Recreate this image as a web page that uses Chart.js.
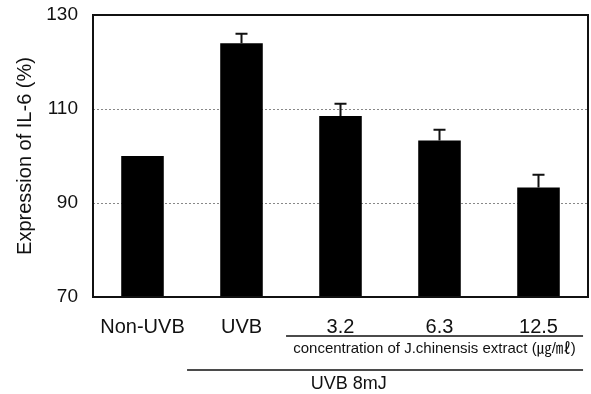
<!DOCTYPE html>
<html>
<head>
<meta charset="utf-8">
<script src="https://cdn.jsdelivr.net/npm/chart.js@4"></script>
<style>
  html, body { margin: 0; padding: 0; background: #fff; }
  #wrap { width: 591px; height: 394px; }
</style>
</head>
<body>
<div id="wrap"><canvas id="il6Chart" width="591" height="394"></canvas></div>
<script>
// IL-6 expression bar chart

const groups = ['Non-UVB', 'UVB', '3.2', '6.3', '12.5'];
const il6Values = [100, 124, 108.5, 103.3, 93.3];
const il6Errors = [0, 2, 2.6, 2.3, 2.7];
const yTicks = [70, 90, 110, 130];

const FONT = "'Liberation Sans', Arial, 'Noto Sans CJK KR', sans-serif";

// error bars (upper half only, like the figure)
const errorBars = {
    id: 'errorBars',
    afterDatasetsDraw(chart) {
        const ctx = chart.ctx;
        const x = chart.scales.x, y = chart.scales.y;
        ctx.save();
        ctx.strokeStyle = '#111';
        ctx.lineWidth = 2;
        il6Values.forEach((v, i) => {
            if (!il6Errors[i]) return;
            const px = x.getPixelForValue(i);
            const top = y.getPixelForValue(v + il6Errors[i]);
            ctx.beginPath();
            ctx.moveTo(px, y.getPixelForValue(v));
            ctx.lineTo(px, top);
            ctx.moveTo(px - 6, top);
            ctx.lineTo(px + 6, top);
            ctx.stroke();
        });
        ctx.restore();
    }
};

// frame around the plot and the grouping lines under the axis
const frameAndGroups = {
    id: 'frameAndGroups',
    afterDraw(chart) {
        const ctx = chart.ctx;
        const a = chart.chartArea;
        const x = chart.scales.x;
        ctx.save();
        ctx.strokeStyle = '#111';
        ctx.lineWidth = 2;
        ctx.strokeRect(a.left, a.top, a.right - a.left, a.bottom - a.top);

        ctx.lineWidth = 1.5;
        ctx.beginPath();
        ctx.moveTo(x.getPixelForValue(1.45), 336);
        ctx.lineTo(x.getPixelForValue(4.45), 336);
        ctx.moveTo(x.getPixelForValue(0.45), 370);
        ctx.lineTo(x.getPixelForValue(4.45), 370);
        ctx.stroke();

        ctx.fillStyle = '#111';
        ctx.textBaseline = 'middle';
        ctx.textAlign = 'center';
        ctx.font = '15px ' + FONT;
        ctx.fillText('concentration of J.chinensis extract (㎍/㎖)', x.getPixelForValue(2.95), 349);
        ctx.textAlign = 'left';
        ctx.font = '18px ' + FONT;
        ctx.fillText('UVB 8mJ', x.getPixelForValue(1.7), 384);
        ctx.restore();
    }
};

new Chart(document.getElementById('il6Chart'), {
    type: 'bar',
    data: {
        labels: groups,
        datasets: [{
            data: il6Values,
            backgroundColor: '#000',
            borderWidth: 0,
            barPercentage: 0.43,
            categoryPercentage: 1
        }]
    },
    options: {
        responsive: false,
        animation: false,
        layout: { padding: { top: 15, right: 3, left: 0, bottom: 0 } },
        scales: {
            x: {
                grid: { display: false },
                border: { display: false },
                ticks: { color: '#111', padding: 10, font: { family: FONT, size: 20 } },
                afterFit: s => { s.height = 97; }
            },
            y: {
                min: 70,
                max: 130,
                afterBuildTicks: s => { s.ticks = yTicks.map(v => ({ value: v })); },
                grid: { color: '#888', lineWidth: 1, drawTicks: false },
                border: { display: false, dash: [2, 2] },
                ticks: { color: '#111', padding: 15, font: { family: FONT, size: 19 } },
                title: { display: true, text: 'Expression of IL-6 (%)', color: '#111', padding: { top: 13 }, font: { family: FONT, size: 20 } },
                afterFit: s => { s.width = 93; s.paddingTop = 0; s.paddingBottom = 0; }
            }
        },
        plugins: { legend: { display: false }, tooltip: { enabled: false } }
    },
    plugins: [errorBars, frameAndGroups]
});
</script>
</body>
</html>
